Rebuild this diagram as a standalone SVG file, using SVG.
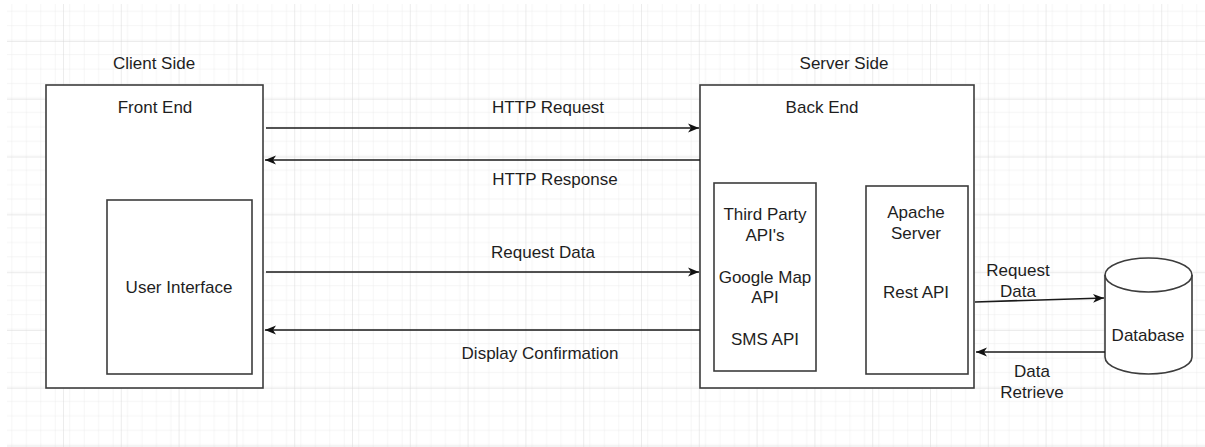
<svg xmlns="http://www.w3.org/2000/svg" width="1205" height="447" viewBox="0 0 1205 447">
<defs>
<pattern id="minor" x="6.2" y="-15.8" width="14.45" height="14.45" patternUnits="userSpaceOnUse">
<path d="M14.45,0 V14.45 H0" fill="none" stroke="#ebebeb" stroke-width="1"/>
</pattern>
<pattern id="major" x="6.2" y="-15.8" width="57.8" height="57.8" patternUnits="userSpaceOnUse">
<rect width="57.8" height="57.8" fill="url(#minor)"/>
<path d="M57.8,0 V57.8 H0" fill="none" stroke="#d9d9d9" stroke-width="1"/>
</pattern>
<marker id="arr" markerWidth="12" markerHeight="10" refX="11" refY="5" orient="auto" markerUnits="userSpaceOnUse">
<path d="M0,0.5 L11,5 L0,9.5 L3,5 Z" fill="#111"/>
</marker>
<style>
.box{fill:#fff;stroke:#3c3c3c;stroke-width:1.6}
.conn{fill:none;stroke:#1a1a1a;stroke-width:1.6;marker-end:url(#arr)}
text{font-family:"Liberation Sans",Arial,sans-serif;font-size:17px;fill:#1e1e1e;text-anchor:middle}
</style>
</defs>
<rect width="1205" height="447" fill="#fff"/>
<rect x="7" y="4" width="1198" height="443" fill="url(#major)"/>

<g id="client-side-label"><text x="154" y="69">Client Side</text></g>
<g id="server-side-label"><text x="844" y="69">Server Side</text></g>

<g id="front-end">
<rect class="box" x="46" y="85" width="217" height="303"/>
<text x="155" y="113">Front End</text>
</g>
<g id="user-interface">
<rect class="box" x="107" y="200" width="145" height="174"/>
<text x="179" y="293">User Interface</text>
</g>

<g id="back-end">
<rect class="box" x="700" y="85" width="274" height="303"/>
<text x="822" y="113">Back End</text>
</g>
<g id="third-party">
<rect class="box" x="714" y="183" width="102" height="188"/>
<text x="765" y="220">Third Party</text>
<text x="765" y="241">API's</text>
<text x="765" y="283">Google Map</text>
<text x="765" y="303">API</text>
<text x="765" y="345">SMS API</text>
</g>
<g id="apache">
<rect class="box" x="866" y="186" width="102" height="188"/>
<text x="916" y="218">Apache</text>
<text x="916" y="239">Server</text>
<text x="916" y="298">Rest API</text>
</g>

<g id="database">
<path class="box" d="M1105,275 A43.5,17 0 0 1 1192,275 V357 A43.5,17 0 0 1 1105,357 Z"/>
<path d="M1105,275 A43.5,17 0 0 0 1192,275" fill="none" stroke="#3c3c3c" stroke-width="1.6"/>
<text x="1148" y="341">Database</text>
</g>

<g id="connectors">
<line class="conn" x1="266" y1="128" x2="699" y2="128"/>
<line class="conn" x1="700" y1="160" x2="265" y2="160"/>
<line class="conn" x1="266" y1="272" x2="699" y2="272"/>
<line class="conn" x1="700" y1="330" x2="265" y2="330"/>
<line class="conn" x1="975" y1="302" x2="1104" y2="298"/>
<line class="conn" x1="1105" y1="352" x2="976" y2="352"/>
</g>

<g id="labels">
<text x="548" y="113">HTTP Request</text>
<text x="555" y="185">HTTP Response</text>
<text x="543" y="258">Request Data</text>
<text x="540" y="359">Display Confirmation</text>
<text x="1018" y="276">Request</text>
<text x="1018" y="297">Data</text>
<text x="1032" y="377">Data</text>
<text x="1032" y="398">Retrieve</text>
</g>
</svg>
